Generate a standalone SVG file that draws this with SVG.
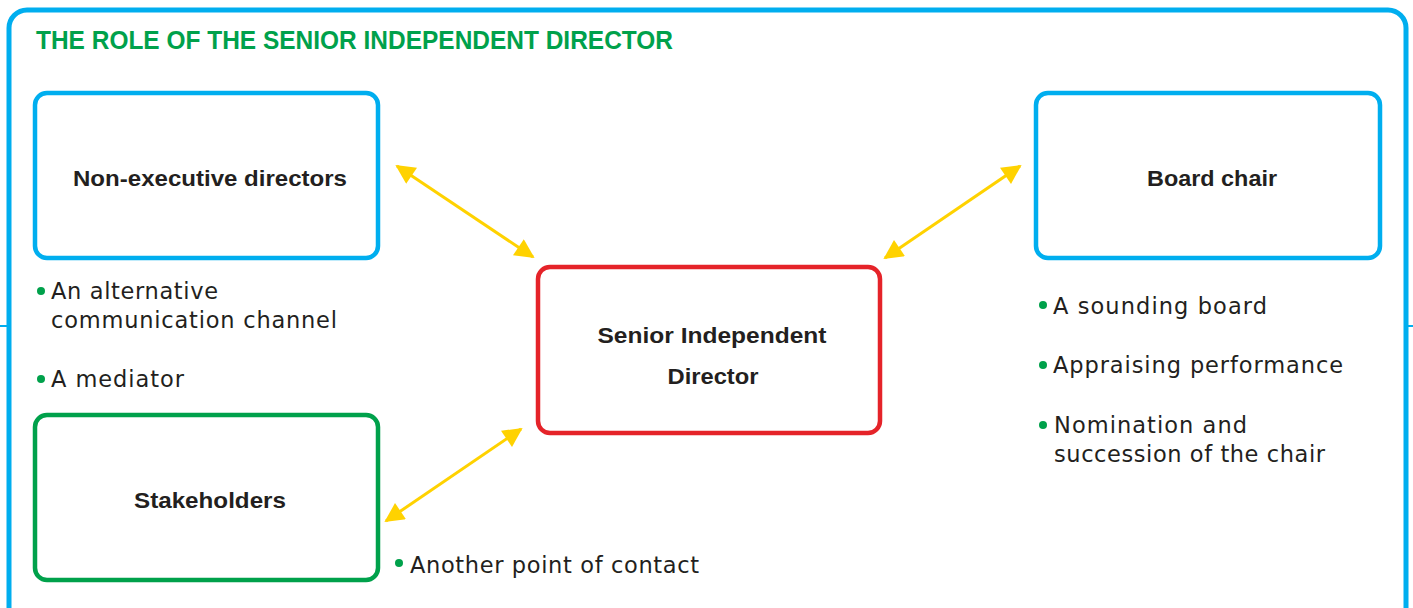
<svg xmlns="http://www.w3.org/2000/svg" width="1413" height="608" viewBox="0 0 1413 608">
<defs>
<style>
.box{fill:#fff;stroke-width:4.5}
.blue{stroke:#00AEEF}
.red{stroke:#E52329}
.green{stroke:#00A14B}
.lbl{font-family:"Liberation Sans",Arial,sans-serif;font-weight:bold;font-size:21.5px;fill:#231F20;text-anchor:middle}
.bt{font-family:"DejaVu Sans","Liberation Sans",sans-serif;font-size:22.5px;fill:#231F20}
.dot{fill:#00A14B}
.arr{stroke:#FFD200;stroke-width:3;fill:none;marker-start:url(#ah);marker-end:url(#ah)}
</style>
<marker id="ah" viewBox="0 0 10 10" refX="9" refY="5" markerWidth="7.5" markerHeight="6.5" orient="auto-start-reverse" markerUnits="strokeWidth">
<path d="M0,0 L10,5 L0,10 Z" fill="#FFD200"/>
</marker>
</defs>
<rect width="1413" height="608" fill="#fff"/>
<g id="frame">
<rect x="9" y="10" width="1397" height="620" rx="18" fill="none" stroke="#00AEEF" stroke-width="5"/>
<line x1="0" y1="326" x2="9" y2="326" stroke="#00AEEF" stroke-width="2"/>
<line x1="1406" y1="326" x2="1413" y2="326" stroke="#00AEEF" stroke-width="2"/>
<text x="36" y="49" font-family="Liberation Sans,Arial,sans-serif" font-weight="bold" font-size="26" fill="#00A14B" textLength="637" lengthAdjust="spacingAndGlyphs">THE ROLE OF THE SENIOR INDEPENDENT DIRECTOR</text>
</g>
<g id="connectors">
<line class="arr" x1="397" y1="166" x2="533" y2="257"/>
<line class="arr" x1="1020" y1="166" x2="885" y2="258"/>
<line class="arr" x1="521" y1="429" x2="386" y2="521"/>
</g>
<g id="node-ned">
<rect class="box blue" x="35" y="93" width="343" height="165" rx="12"/>
<text class="lbl" x="210" y="186" textLength="274" lengthAdjust="spacingAndGlyphs">Non-executive directors</text>
</g>
<g id="node-chair">
<rect class="box blue" x="1036" y="93" width="344" height="165" rx="12"/>
<text class="lbl" x="1212" y="186" textLength="130" lengthAdjust="spacingAndGlyphs">Board chair</text>
</g>
<g id="node-sid">
<rect class="box red" x="538" y="267" width="342" height="166" rx="12"/>
<text class="lbl" x="712" y="343" textLength="229" lengthAdjust="spacingAndGlyphs">Senior Independent</text>
<text class="lbl" x="713" y="384" textLength="91" lengthAdjust="spacingAndGlyphs">Director</text>
</g>
<g id="node-stake">
<rect class="box green" x="35" y="415" width="343" height="165" rx="12"/>
<text class="lbl" x="210" y="508" textLength="152" lengthAdjust="spacingAndGlyphs">Stakeholders</text>
</g>
<g id="notes">
<circle class="dot" cx="41" cy="291" r="4"/>
<text class="bt" x="51" y="299" textLength="167">An alternative</text>
<text class="bt" x="51" y="328" textLength="286">communication channel</text>
<circle class="dot" cx="41" cy="379" r="4"/>
<text class="bt" x="51" y="387" textLength="133">A mediator</text>
<circle class="dot" cx="1043" cy="305" r="4"/>
<text class="bt" x="1053" y="314" textLength="214">A sounding board</text>
<circle class="dot" cx="1043" cy="365" r="4"/>
<text class="bt" x="1053" y="373" textLength="290">Appraising performance</text>
<circle class="dot" cx="1043" cy="425" r="4"/>
<text class="bt" x="1054" y="433" textLength="193">Nomination and</text>
<text class="bt" x="1054" y="462" textLength="271">succession of the chair</text>
<circle class="dot" cx="399" cy="563" r="4"/>
<text class="bt" x="410" y="573" textLength="289">Another point of contact</text>
</g>
</svg>
